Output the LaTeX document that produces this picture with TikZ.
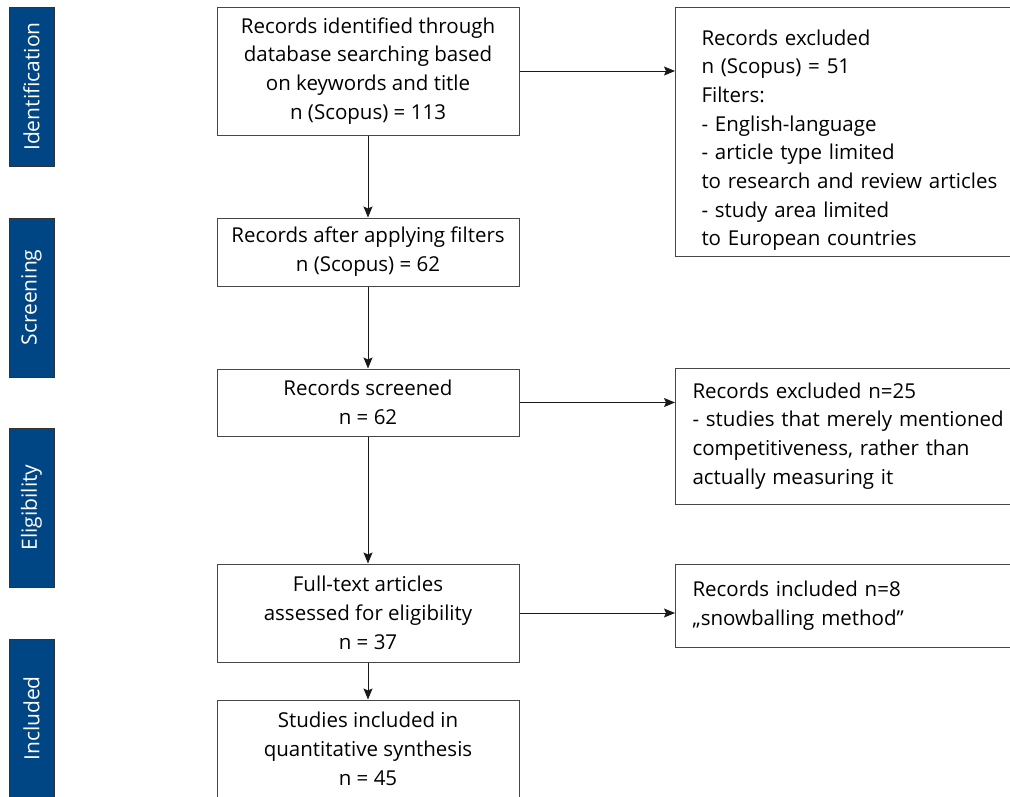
\documentclass[tikz,border=0pt]{standalone}
\usepackage{fontspec}
\setmainfont{Open Sans}
\usepackage{xcolor}
\definecolor{StageBlue}{RGB}{0,69,132}
\definecolor{Frame}{RGB}{70,70,70}
\usepackage{tikz}
\usetikzlibrary{arrows.meta}
\tikzstyle{Box}=[rectangle,draw=Frame,line width=1pt,align=center,
minimum width=302pt,font=\fontsize{20.5}{28.8}\selectfont]
\tikzstyle{SideBox}=[rectangle,draw=Frame,line width=1pt,align=left,
anchor=west,text width=340pt,font=\fontsize{20.5}{28.7}\selectfont]
\tikzstyle{Stage}=[rectangle,draw=black!80,fill=StageBlue,text=white,
rotate=90,minimum width=159pt,minimum height=45pt,line width=.8pt,
font=\fontsize{21}{24}\selectfont]
\tikzstyle{Edge}=[draw=black!90,line width=1pt,
-{Stealth[length=11pt,width=9pt,inset=2pt]}]

\begin{document}
\begin{tikzpicture}[x=1pt,y=-1pt]
        \useasboundingbox(0,0)rectangle(1010,796);
        \clip(0,0)rectangle(1010,796);
        % stages
        \node[Stage](Ident)at(31.5,86.5){Identification};
        \node[Stage](Screen)at(31.5,297.5){Screening};
        \node[Stage](Elig)at(31.5,507.5){Eligibility};
        \node[Stage](Incl)at(31.5,718.5){Included};
        % main column
        \node[Box,minimum height=128pt](B1)at(368,71)
            {Records identified through\\database searching based\\
             on keywords and title\\n (Scopus) = 113};
        \node[Box,minimum height=68pt](B2)at(368,252)
            {Records after applying filters\\n (Scopus) = 62};
        \node[Box,minimum height=67pt](B3)at(368,402.5)
            {Records screened\\n = 62};
        \node[Box,minimum height=98pt](B4)at(368,613)
            {Full-text articles\\assessed for eligibility\\n = 37};
        \node[Box,minimum height=98pt](B5)at(368,749)
            {Studies included in\\quantitative synthesis\\n = 45};
        % side column
        \node[SideBox,inner xsep=26pt,minimum height=249pt,text height=33pt]
            (R1)at(675,131.5)
            {Records excluded\\n (Scopus) = 51\\Filters:\\- English-language\\
             - article type limited\\to research and review articles\\
             - study area limited\\to European countries};
        \node[SideBox,inner xsep=17pt,minimum height=136pt](R2)at(675,436)
            {Records excluded n=25\\- studies that merely mentioned\\
             competitiveness, rather than\\actually measuring it};
        \node[SideBox,inner xsep=17pt,minimum height=83pt](R3)at(675,605.5)
            {Records included n=8\\,,snowballing method''};
        % connectors
        \draw[Edge](B1)--(B2);
        \draw[Edge](B2)--(B3);
        \draw[Edge](B3)--(B4);
        \draw[Edge](B4)--(B5);
        \draw[Edge](B1.east)--(B1.east-|R1.west);
        \draw[Edge](B3.east)--(B3.east-|R2.west);
        \draw[Edge](B4.east)--(B4.east-|R3.west);
    \end{tikzpicture}
\end{document}
